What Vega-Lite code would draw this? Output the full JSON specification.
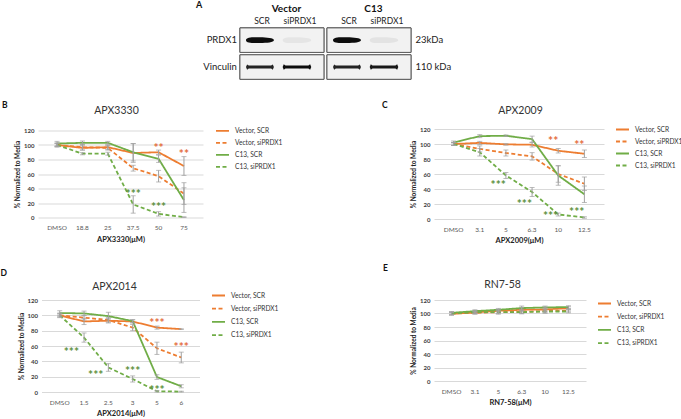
{
  "$schema": "https://vega.github.io/schema/vega-lite/v6.json",
  "background": "white",
  "padding": {"left": 0, "top": 0, "right": 0, "bottom": 0},
  "config": {
    "font": "Lato",
    "view": {"stroke": null},
    "axis": {"domain": false, "ticks": false, "labelFont": "Lato", "titleFont": "Lato"},
    "axisY": {"grid": true, "gridColor": "#D9D9D9", "gridWidth": 1, "labelFontSize": 6, "labelFontWeight": "bold", "labelColor": "#404040", "labelPadding": 4, "titleFontSize": 6.5, "titleFontWeight": "bold", "titleColor": "#222222", "titlePadding": 3},
    "axisX": {"grid": false, "labelFontSize": 6.5, "labelColor": "#595959", "labelAngle": 0, "labelPadding": 7, "titleFontSize": 7.5, "titleFontWeight": "bold", "titleColor": "#222222", "titlePadding": 4},
    "legend": {"title": null, "orient": "none", "symbolType": "stroke", "symbolSize": 169, "symbolStrokeWidth": 1.8, "labelFontSize": 6.6, "labelFont": "Lato", "labelColor": "#333333", "labelOffset": 5, "padding": 0, "rowPadding": 0},
    "title": {"font": "Lato", "color": "#111111"}
  },
  "datasets": {
    "blot": [
      {"cond": "Vector", "lane": "SCR", "protein": "PRDX1", "intensity": 0.95},
      {"cond": "Vector", "lane": "siPRDX1", "protein": "PRDX1", "intensity": 0.05},
      {"cond": "Vector", "lane": "SCR", "protein": "Vinculin", "intensity": 0.85},
      {"cond": "Vector", "lane": "siPRDX1", "protein": "Vinculin", "intensity": 0.95},
      {"cond": "C13", "lane": "SCR", "protein": "PRDX1", "intensity": 0.95},
      {"cond": "C13", "lane": "siPRDX1", "protein": "PRDX1", "intensity": 0.06},
      {"cond": "C13", "lane": "SCR", "protein": "Vinculin", "intensity": 0.85},
      {"cond": "C13", "lane": "siPRDX1", "protein": "Vinculin", "intensity": 0.9}
    ],
    "stars": [
      {"drug": "APX3330", "dose": "50", "value": 101.5, "sig": "**", "grp": "Vector"},
      {"drug": "APX3330", "dose": "75", "value": 92.5, "sig": "**", "grp": "Vector"},
      {"drug": "APX3330", "dose": "37.5", "value": 38, "sig": "***", "grp": "C13"},
      {"drug": "APX3330", "dose": "50", "value": 19.5, "sig": "***", "grp": "C13"},
      {"drug": "APX2009", "dose": "10", "value": 110, "sig": "**", "grp": "Vector"},
      {"drug": "APX2009", "dose": "12.5", "value": 104.5, "sig": "**", "grp": "Vector"},
      {"drug": "APX2009", "dose": "5", "value": 50.5, "sig": "***", "grp": "C13"},
      {"drug": "APX2009", "dose": "6.3", "value": 25, "sig": "***", "grp": "C13"},
      {"drug": "APX2009", "dose": "10", "value": 9, "sig": "***", "grp": "C13"},
      {"drug": "APX2009", "dose": "12.5", "value": 14.5, "sig": "***", "grp": "C13"},
      {"drug": "APX2014", "dose": "5", "value": 95, "sig": "***", "grp": "Vector"},
      {"drug": "APX2014", "dose": "6", "value": 64.5, "sig": "***", "grp": "Vector"},
      {"drug": "APX2014", "dose": "1.5", "value": 58, "sig": "***", "grp": "C13"},
      {"drug": "APX2014", "dose": "2.5", "value": 28, "sig": "***", "grp": "C13"},
      {"drug": "APX2014", "dose": "3", "value": 32.5, "sig": "***", "grp": "C13"},
      {"drug": "APX2014", "dose": "5", "value": 7.5, "sig": "***", "grp": "C13"}
    ],
    "curves": [
      {"drug": "APX3330", "dose": "DMSO", "series": "Vector, SCR", "value": 100, "err": 2},
      {"drug": "APX3330", "dose": "18.8", "series": "Vector, SCR", "value": 96, "err": 3},
      {"drug": "APX3330", "dose": "25", "series": "Vector, SCR", "value": 97, "err": 3},
      {"drug": "APX3330", "dose": "37.5", "series": "Vector, SCR", "value": 89, "err": 13},
      {"drug": "APX3330", "dose": "50", "series": "Vector, SCR", "value": 90, "err": 3},
      {"drug": "APX3330", "dose": "75", "series": "Vector, SCR", "value": 71, "err": 13},
      {"drug": "APX3330", "dose": "DMSO", "series": "Vector, siPRDX1", "value": 100, "err": 2},
      {"drug": "APX3330", "dose": "18.8", "series": "Vector, siPRDX1", "value": 97, "err": 4},
      {"drug": "APX3330", "dose": "25", "series": "Vector, siPRDX1", "value": 96, "err": 3},
      {"drug": "APX3330", "dose": "37.5", "series": "Vector, siPRDX1", "value": 68, "err": 4},
      {"drug": "APX3330", "dose": "50", "series": "Vector, siPRDX1", "value": 57, "err": 8},
      {"drug": "APX3330", "dose": "75", "series": "Vector, siPRDX1", "value": 33, "err": 15},
      {"drug": "APX3330", "dose": "DMSO", "series": "C13, SCR", "value": 102, "err": 3},
      {"drug": "APX3330", "dose": "18.8", "series": "C13, SCR", "value": 103, "err": 2.5},
      {"drug": "APX3330", "dose": "25", "series": "C13, SCR", "value": 103, "err": 2},
      {"drug": "APX3330", "dose": "37.5", "series": "C13, SCR", "value": 90, "err": 12},
      {"drug": "APX3330", "dose": "50", "series": "C13, SCR", "value": 81, "err": 5},
      {"drug": "APX3330", "dose": "75", "series": "C13, SCR", "value": 24, "err": 17},
      {"drug": "APX3330", "dose": "DMSO", "series": "C13, siPRDX1", "value": 100, "err": 3},
      {"drug": "APX3330", "dose": "18.8", "series": "C13, siPRDX1", "value": 88, "err": 1.5},
      {"drug": "APX3330", "dose": "25", "series": "C13, siPRDX1", "value": 88, "err": 2},
      {"drug": "APX3330", "dose": "37.5", "series": "C13, siPRDX1", "value": 18, "err": 12},
      {"drug": "APX3330", "dose": "50", "series": "C13, siPRDX1", "value": 5, "err": 3},
      {"drug": "APX3330", "dose": "75", "series": "C13, siPRDX1", "value": 0.5, "err": 0.5},
      {"drug": "APX2009", "dose": "DMSO", "series": "Vector, SCR", "value": 100, "err": 2},
      {"drug": "APX2009", "dose": "3.1", "series": "Vector, SCR", "value": 101.5, "err": 2},
      {"drug": "APX2009", "dose": "5", "series": "Vector, SCR", "value": 99.5, "err": 1},
      {"drug": "APX2009", "dose": "6.3", "series": "Vector, SCR", "value": 99, "err": 3},
      {"drug": "APX2009", "dose": "10", "series": "Vector, SCR", "value": 91, "err": 3},
      {"drug": "APX2009", "dose": "12.5", "series": "Vector, SCR", "value": 87, "err": 5},
      {"drug": "APX2009", "dose": "DMSO", "series": "Vector, siPRDX1", "value": 100, "err": 2},
      {"drug": "APX2009", "dose": "3.1", "series": "Vector, siPRDX1", "value": 93.5, "err": 4},
      {"drug": "APX2009", "dose": "5", "series": "Vector, siPRDX1", "value": 88, "err": 4},
      {"drug": "APX2009", "dose": "6.3", "series": "Vector, siPRDX1", "value": 83.5, "err": 5},
      {"drug": "APX2009", "dose": "10", "series": "Vector, siPRDX1", "value": 60, "err": 11},
      {"drug": "APX2009", "dose": "12.5", "series": "Vector, siPRDX1", "value": 47, "err": 9},
      {"drug": "APX2009", "dose": "DMSO", "series": "C13, SCR", "value": 102, "err": 2},
      {"drug": "APX2009", "dose": "3.1", "series": "C13, SCR", "value": 110.5, "err": 2},
      {"drug": "APX2009", "dose": "5", "series": "C13, SCR", "value": 111, "err": 1},
      {"drug": "APX2009", "dose": "6.3", "series": "C13, SCR", "value": 106.5, "err": 4},
      {"drug": "APX2009", "dose": "10", "series": "C13, SCR", "value": 58, "err": 13},
      {"drug": "APX2009", "dose": "12.5", "series": "C13, SCR", "value": 33, "err": 11},
      {"drug": "APX2009", "dose": "DMSO", "series": "C13, siPRDX1", "value": 100, "err": 2},
      {"drug": "APX2009", "dose": "3.1", "series": "C13, siPRDX1", "value": 89, "err": 5},
      {"drug": "APX2009", "dose": "5", "series": "C13, siPRDX1", "value": 58, "err": 4},
      {"drug": "APX2009", "dose": "6.3", "series": "C13, siPRDX1", "value": 36, "err": 6},
      {"drug": "APX2009", "dose": "10", "series": "C13, siPRDX1", "value": 6, "err": 2},
      {"drug": "APX2009", "dose": "12.5", "series": "C13, siPRDX1", "value": 2, "err": 1},
      {"drug": "APX2014", "dose": "DMSO", "series": "Vector, SCR", "value": 100, "err": 2},
      {"drug": "APX2014", "dose": "1.5", "series": "Vector, SCR", "value": 92, "err": 4},
      {"drug": "APX2014", "dose": "2.5", "series": "Vector, SCR", "value": 93, "err": 3},
      {"drug": "APX2014", "dose": "3", "series": "Vector, SCR", "value": 92, "err": 2},
      {"drug": "APX2014", "dose": "5", "series": "Vector, SCR", "value": 84, "err": 2},
      {"drug": "APX2014", "dose": "6", "series": "Vector, SCR", "value": 82, "err": 0.5},
      {"drug": "APX2014", "dose": "DMSO", "series": "Vector, siPRDX1", "value": 100, "err": 2},
      {"drug": "APX2014", "dose": "1.5", "series": "Vector, siPRDX1", "value": 97, "err": 3},
      {"drug": "APX2014", "dose": "2.5", "series": "Vector, siPRDX1", "value": 94, "err": 3},
      {"drug": "APX2014", "dose": "3", "series": "Vector, siPRDX1", "value": 84, "err": 4},
      {"drug": "APX2014", "dose": "5", "series": "Vector, siPRDX1", "value": 57, "err": 8},
      {"drug": "APX2014", "dose": "6", "series": "Vector, siPRDX1", "value": 45, "err": 7},
      {"drug": "APX2014", "dose": "DMSO", "series": "C13, SCR", "value": 103, "err": 3},
      {"drug": "APX2014", "dose": "1.5", "series": "C13, SCR", "value": 102.5, "err": 3},
      {"drug": "APX2014", "dose": "2.5", "series": "C13, SCR", "value": 99, "err": 5},
      {"drug": "APX2014", "dose": "3", "series": "C13, SCR", "value": 92.5, "err": 2},
      {"drug": "APX2014", "dose": "5", "series": "C13, SCR", "value": 19.5, "err": 3},
      {"drug": "APX2014", "dose": "6", "series": "C13, SCR", "value": 7.5, "err": 2},
      {"drug": "APX2014", "dose": "DMSO", "series": "C13, siPRDX1", "value": 100, "err": 3},
      {"drug": "APX2014", "dose": "1.5", "series": "C13, siPRDX1", "value": 71, "err": 6},
      {"drug": "APX2014", "dose": "2.5", "series": "C13, siPRDX1", "value": 32, "err": 5},
      {"drug": "APX2014", "dose": "3", "series": "C13, siPRDX1", "value": 17, "err": 4},
      {"drug": "APX2014", "dose": "5", "series": "C13, siPRDX1", "value": 1, "err": 1},
      {"drug": "APX2014", "dose": "6", "series": "C13, siPRDX1", "value": 0.5, "err": 0.5},
      {"drug": "RN7-58", "dose": "DMSO", "series": "Vector, SCR", "value": 99.5, "err": 2},
      {"drug": "RN7-58", "dose": "3.1", "series": "Vector, SCR", "value": 101.5, "err": 2},
      {"drug": "RN7-58", "dose": "5", "series": "Vector, SCR", "value": 104, "err": 2},
      {"drug": "RN7-58", "dose": "6.3", "series": "Vector, SCR", "value": 105.5, "err": 3},
      {"drug": "RN7-58", "dose": "10", "series": "Vector, SCR", "value": 106, "err": 3},
      {"drug": "RN7-58", "dose": "12.5", "series": "Vector, SCR", "value": 108, "err": 2},
      {"drug": "RN7-58", "dose": "DMSO", "series": "Vector, siPRDX1", "value": 100, "err": 2},
      {"drug": "RN7-58", "dose": "3.1", "series": "Vector, siPRDX1", "value": 101, "err": 2},
      {"drug": "RN7-58", "dose": "5", "series": "Vector, siPRDX1", "value": 102, "err": 3},
      {"drug": "RN7-58", "dose": "6.3", "series": "Vector, siPRDX1", "value": 102.5, "err": 3},
      {"drug": "RN7-58", "dose": "10", "series": "Vector, siPRDX1", "value": 103.5, "err": 3},
      {"drug": "RN7-58", "dose": "12.5", "series": "Vector, siPRDX1", "value": 104.5, "err": 2},
      {"drug": "RN7-58", "dose": "DMSO", "series": "C13, SCR", "value": 101, "err": 2},
      {"drug": "RN7-58", "dose": "3.1", "series": "C13, SCR", "value": 103.5, "err": 2},
      {"drug": "RN7-58", "dose": "5", "series": "C13, SCR", "value": 105.5, "err": 2},
      {"drug": "RN7-58", "dose": "6.3", "series": "C13, SCR", "value": 108, "err": 3},
      {"drug": "RN7-58", "dose": "10", "series": "C13, SCR", "value": 109, "err": 2},
      {"drug": "RN7-58", "dose": "12.5", "series": "C13, SCR", "value": 109.5, "err": 2},
      {"drug": "RN7-58", "dose": "DMSO", "series": "C13, siPRDX1", "value": 100, "err": 2},
      {"drug": "RN7-58", "dose": "3.1", "series": "C13, siPRDX1", "value": 102, "err": 2},
      {"drug": "RN7-58", "dose": "5", "series": "C13, siPRDX1", "value": 102, "err": 2},
      {"drug": "RN7-58", "dose": "6.3", "series": "C13, siPRDX1", "value": 102, "err": 2},
      {"drug": "RN7-58", "dose": "10", "series": "C13, siPRDX1", "value": 103, "err": 2},
      {"drug": "RN7-58", "dose": "12.5", "series": "C13, siPRDX1", "value": 103, "err": 2}
    ]
  },
  "resolve": {"scale": {"color": "independent", "strokeDash": "independent"}},
  "spacing": 49,
  "bounds": "flush",
  "align": "none",
  "vconcat": [
    {
      "width": 373, "height": 78.3,
      "title": {"text": "A", "anchor": "start", "frame": "group", "dx": 158, "offset": -8.5, "fontSize": 9, "fontWeight": "bold"},
      "data": {"name": "blot"},
      "encoding": {
        "x": {"field": "cond", "type": "nominal", "scale": {"type": "band", "domain": ["gap", "Vector", "C13"], "paddingInner": 0.0345, "paddingOuter": 0.66, "align": 1}, "axis": null},
        "y": {"field": "protein", "type": "nominal", "scale": {"type": "band", "domain": ["lanes", "PRDX1", "Vinculin"], "paddingInner": 0.089, "paddingOuter": 0},
          "axis": {"orient": "right", "title": null, "grid": false, "labelExpr": "datum.value == 'PRDX1' ? '23kDa' : datum.value == 'Vinculin' ? '110 kDa' : ''", "labelFontSize": 9.5, "labelFontWeight": "normal", "labelColor": "#222222", "labelPadding": 4}}
      },
      "layer": [
        {
          "mark": {"type": "rect", "fill": "#F2F2F2", "stroke": "#5A5A5A", "strokeWidth": 1}
        },
        {
          "transform": [{"filter": "datum.lane == 'SCR'"}],
          "mark": {"type": "point", "filled": true, "color": "#000000", "strokeWidth": 0, "size": 780, "xOffset": -22},
          "encoding": {
            "shape": {"field": "protein", "type": "nominal", "scale": {"domain": ["PRDX1", "Vinculin"], "range": ["M-1,0C-1,-0.22,-0.5,-0.21,0,-0.2C0.5,-0.19,1,-0.15,1,0C1,0.15,0.5,0.19,0,0.2C-0.5,0.21,-1,0.22,-1,0Z", "M-1,0L-0.92,-0.19L-0.8,-0.11L0.8,-0.11L0.92,-0.19L1,0L0.92,0.19L0.8,0.11L-0.8,0.11L-0.92,0.19Z"]}, "legend": null},
            "opacity": {"field": "intensity", "type": "quantitative", "scale": {"domain": [0, 1], "range": [0, 1]}, "legend": null}
          }
        },
        {
          "transform": [{"filter": "datum.lane == 'siPRDX1'"}],
          "mark": {"type": "point", "filled": true, "color": "#000000", "strokeWidth": 0, "size": 820, "xOffset": 15},
          "encoding": {
            "shape": {"field": "protein", "type": "nominal", "scale": {"domain": ["PRDX1", "Vinculin"], "range": ["M-1,0C-1,-0.22,-0.5,-0.21,0,-0.2C0.5,-0.19,1,-0.15,1,0C1,0.15,0.5,0.19,0,0.2C-0.5,0.21,-1,0.22,-1,0Z", "M-1,0L-0.92,-0.19L-0.8,-0.11L0.8,-0.11L0.92,-0.19L1,0L0.92,0.19L0.8,0.11L-0.8,0.11L-0.92,0.19Z"]}, "legend": null},
            "opacity": {"field": "intensity", "type": "quantitative", "scale": {"domain": [0, 1], "range": [0, 1]}, "legend": null}
          }
        },
        {
          "transform": [{"filter": "datum.protein == 'PRDX1' && datum.lane == 'SCR'"}],
          "mark": {"type": "text", "fontSize": 8.5, "color": "#222222", "baseline": "middle", "dx": -20},
          "encoding": {
            "y": {"datum": "lanes", "type": "nominal", "bandPosition": 0.83},
            "text": {"field": "lane"}
          }
        },
        {
          "transform": [{"filter": "datum.protein == 'PRDX1' && datum.lane == 'siPRDX1'"}],
          "mark": {"type": "text", "fontSize": 8.5, "color": "#222222", "baseline": "middle", "dx": 18},
          "encoding": {
            "y": {"datum": "lanes", "type": "nominal", "bandPosition": 0.83},
            "text": {"field": "lane"}
          }
        },
        {
          "transform": [{"filter": "datum.protein == 'PRDX1' && datum.lane == 'SCR'"}],
          "mark": {"type": "text", "fontSize": 10, "fontWeight": "bold", "color": "#111111", "baseline": "middle", "dx": 4.5},
          "encoding": {
            "y": {"datum": "lanes", "type": "nominal", "bandPosition": 0.31},
            "text": {"field": "cond"}
          }
        },
        {
          "transform": [{"filter": "datum.cond == 'Vector' && datum.lane == 'SCR'"}],
          "mark": {"type": "text", "fontSize": 9.5, "color": "#222222", "baseline": "middle", "align": "right", "dx": -3},
          "encoding": {
            "x": {"field": "cond", "type": "nominal", "bandPosition": 0, "axis": null},
            "text": {"field": "protein"}
          }
        }
      ]
    },
    {
      "columns": 2,
      "spacing": {"row": 81, "column": 231},
      "bounds": "flush",
      "align": "each",
      "center": true,
      "resolve": {"scale": {"color": "independent", "strokeDash": "independent"}},
      "concat": [
        {
          "width": 165, "height": 87,
          "title": {"text": "B", "anchor": "start", "frame": "group", "dx": -36, "offset": -4, "fontSize": 8.5, "fontWeight": "bold"},
          "resolve": {"axis": {"x": "independent"}},
          "layer": [
            {
              "data": {"name": "curves"},
              "transform": [{"filter": "datum.drug == 'APX3330'"}],
              "mark": {"type": "line", "strokeWidth": 1.8},
              "encoding": {
                "x": {"field": "dose", "type": "ordinal", "scale": {"domain": ["DMSO", "18.8", "25", "37.5", "50", "75"], "padding": 0.5}, "axis": {"orient": "bottom", "title": "APX3330(μM)"}},
                "y": {"field": "value", "type": "quantitative", "scale": {"domain": [0, 120], "nice": false}, "axis": {"values": [0, 20, 40, 60, 80, 100, 120], "title": "% Normalized to Media"}},
                "color": {"field": "series", "type": "nominal", "scale": {"domain": ["Vector, SCR", "Vector, siPRDX1", "C13, SCR", "C13, siPRDX1"], "range": ["#ED7D31", "#ED7D31", "#70AD47", "#70AD47"]}, "legend": {"orient": "none", "legendX": 177, "legendY": -7.2, "rowPadding": -1.2}},
                "strokeDash": {"field": "series", "type": "nominal", "scale": {"domain": ["Vector, SCR", "Vector, siPRDX1", "C13, SCR", "C13, siPRDX1"], "range": [[1, 0], [4, 2.5], [1, 0], [4, 2.5]]}, "legend": {"orient": "none", "legendX": 177, "legendY": -7.2, "rowPadding": -1.2}}
              }
            },
            {
              "data": {"name": "curves"},
              "transform": [{"filter": "datum.drug == 'APX3330'"}],
              "mark": {"type": "errorbar", "ticks": {"size": 5}, "color": "#A0A0A0", "thickness": 1},
              "encoding": {
                "x": {"field": "dose", "type": "ordinal", "axis": {"orient": "top", "title": "APX3330", "labels": false, "grid": false, "titleFontSize": 10.5, "titleFontWeight": "normal", "titleColor": "#333333", "titlePadding": 15, "titleX": 78}},
                "y": {"field": "value", "type": "quantitative", "title": "% Normalized to Media", "axis": {"values": [0, 20, 40, 60, 80, 100, 120], "title": "% Normalized to Media"}},
                "yError": {"field": "err"}
              }
            },
            {
              "data": {"name": "stars"},
              "transform": [{"filter": "datum.drug == 'APX3330'"}],
              "mark": {"type": "text", "fontSize": 12, "fontWeight": "bold", "baseline": "middle", "align": "center", "dy": 4},
              "encoding": {
                "x": {"field": "dose", "type": "ordinal", "axis": null},
                "y": {"field": "value", "type": "quantitative", "axis": {"values": [0, 20, 40, 60, 80, 100, 120], "title": "% Normalized to Media"}},
                "text": {"field": "sig"},
                "fill": {"field": "grp", "type": "nominal", "scale": {"domain": ["Vector", "C13"], "range": ["#E46C3C", "#5A8F3C"]}, "legend": null}
              }
            }
          ]
        },
        {
          "width": 170, "height": 90,
          "title": {"text": "C", "anchor": "start", "frame": "group", "dx": -52, "offset": -4, "fontSize": 8.5, "fontWeight": "bold"},
          "resolve": {"axis": {"x": "independent"}},
          "layer": [
            {
              "data": {"name": "curves"},
              "transform": [{"filter": "datum.drug == 'APX2009'"}],
              "mark": {"type": "line", "strokeWidth": 1.8},
              "encoding": {
                "x": {"field": "dose", "type": "ordinal", "scale": {"domain": ["DMSO", "3.1", "5", "6.3", "10", "12.5"], "padding": 0.5}, "axis": {"orient": "bottom", "title": "APX2009(μM)"}},
                "y": {"field": "value", "type": "quantitative", "scale": {"domain": [0, 120], "nice": false}, "axis": {"values": [0, 20, 40, 60, 80, 100, 120], "title": "% Normalized to Media"}},
                "color": {"field": "series", "type": "nominal", "scale": {"domain": ["Vector, SCR", "Vector, siPRDX1", "C13, SCR", "C13, siPRDX1"], "range": ["#ED7D31", "#ED7D31", "#70AD47", "#70AD47"]}, "legend": {"orient": "none", "legendX": 181, "legendY": -7, "rowPadding": -0.9}},
                "strokeDash": {"field": "series", "type": "nominal", "scale": {"domain": ["Vector, SCR", "Vector, siPRDX1", "C13, SCR", "C13, siPRDX1"], "range": [[1, 0], [4, 2.5], [1, 0], [4, 2.5]]}, "legend": {"orient": "none", "legendX": 181, "legendY": -7, "rowPadding": -0.9}}
              }
            },
            {
              "data": {"name": "curves"},
              "transform": [{"filter": "datum.drug == 'APX2009'"}],
              "mark": {"type": "errorbar", "ticks": {"size": 5}, "color": "#A0A0A0", "thickness": 1},
              "encoding": {
                "x": {"field": "dose", "type": "ordinal", "axis": {"orient": "top", "title": "APX2009", "labels": false, "grid": false, "titleFontSize": 10.5, "titleFontWeight": "normal", "titleColor": "#333333", "titlePadding": 14, "titleX": 86}},
                "y": {"field": "value", "type": "quantitative", "title": "% Normalized to Media", "axis": {"values": [0, 20, 40, 60, 80, 100, 120], "title": "% Normalized to Media"}},
                "yError": {"field": "err"}
              }
            },
            {
              "data": {"name": "stars"},
              "transform": [{"filter": "datum.drug == 'APX2009'"}],
              "mark": {"type": "text", "fontSize": 12, "fontWeight": "bold", "baseline": "middle", "align": "right", "dy": 4},
              "encoding": {
                "x": {"field": "dose", "type": "ordinal", "axis": null},
                "y": {"field": "value", "type": "quantitative", "axis": {"values": [0, 20, 40, 60, 80, 100, 120], "title": "% Normalized to Media"}},
                "text": {"field": "sig"},
                "fill": {"field": "grp", "type": "nominal", "scale": {"domain": ["Vector", "C13"], "range": ["#E46C3C", "#5A8F3C"]}, "legend": null}
              }
            }
          ]
        },
        {
          "width": 158, "height": 92,
          "title": {"text": "D", "anchor": "start", "frame": "group", "dx": -41, "offset": 4, "fontSize": 8.5, "fontWeight": "bold"},
          "resolve": {"axis": {"x": "independent"}},
          "layer": [
            {
              "data": {"name": "curves"},
              "transform": [{"filter": "datum.drug == 'APX2014'"}],
              "mark": {"type": "line", "strokeWidth": 1.8},
              "encoding": {
                "x": {"field": "dose", "type": "ordinal", "scale": {"domain": ["DMSO", "1.5", "2.5", "3", "5", "6"], "padding": 0.5}, "axis": {"orient": "bottom", "title": "APX2014(μM)"}},
                "y": {"field": "value", "type": "quantitative", "scale": {"domain": [0, 120], "nice": false}, "axis": {"values": [0, 20, 40, 60, 80, 100, 120], "title": "% Normalized to Media"}},
                "color": {"field": "series", "type": "nominal", "scale": {"domain": ["Vector, SCR", "Vector, siPRDX1", "C13, SCR", "C13, siPRDX1"], "range": ["#ED7D31", "#ED7D31", "#70AD47", "#70AD47"]}, "legend": {"orient": "none", "legendX": 169.5, "legendY": -12, "rowPadding": 1.2}},
                "strokeDash": {"field": "series", "type": "nominal", "scale": {"domain": ["Vector, SCR", "Vector, siPRDX1", "C13, SCR", "C13, siPRDX1"], "range": [[1, 0], [4, 2.5], [1, 0], [4, 2.5]]}, "legend": {"orient": "none", "legendX": 169.5, "legendY": -12, "rowPadding": 1.2}}
              }
            },
            {
              "data": {"name": "curves"},
              "transform": [{"filter": "datum.drug == 'APX2014'"}],
              "mark": {"type": "errorbar", "ticks": {"size": 5}, "color": "#A0A0A0", "thickness": 1},
              "encoding": {
                "x": {"field": "dose", "type": "ordinal", "axis": {"orient": "top", "title": "APX2014", "labels": false, "grid": false, "titleFontSize": 10.5, "titleFontWeight": "normal", "titleColor": "#333333", "titlePadding": 9, "titleX": 72.5}},
                "y": {"field": "value", "type": "quantitative", "title": "% Normalized to Media", "axis": {"values": [0, 20, 40, 60, 80, 100, 120], "title": "% Normalized to Media"}},
                "yError": {"field": "err"}
              }
            },
            {
              "data": {"name": "stars"},
              "transform": [{"filter": "datum.drug == 'APX2014' && !(datum.grp == 'C13' && (datum.dose == '1.5' || datum.dose == '2.5'))"}],
              "mark": {"type": "text", "fontSize": 12, "fontWeight": "bold", "baseline": "middle", "align": "center", "dy": 4},
              "encoding": {
                "x": {"field": "dose", "type": "ordinal", "axis": null},
                "y": {"field": "value", "type": "quantitative", "axis": {"values": [0, 20, 40, 60, 80, 100, 120], "title": "% Normalized to Media"}},
                "text": {"field": "sig"},
                "fill": {"field": "grp", "type": "nominal", "scale": {"domain": ["Vector", "C13"], "range": ["#E46C3C", "#5A8F3C"]}, "legend": null}
              }
            },
            {
              "data": {"name": "stars"},
              "transform": [{"filter": "datum.drug == 'APX2014' && datum.grp == 'C13' && (datum.dose == '1.5' || datum.dose == '2.5')"}],
              "mark": {"type": "text", "fontSize": 12, "fontWeight": "bold", "baseline": "middle", "align": "right", "dx": -5, "dy": 4},
              "encoding": {
                "x": {"field": "dose", "type": "ordinal", "axis": null},
                "y": {"field": "value", "type": "quantitative", "axis": {"values": [0, 20, 40, 60, 80, 100, 120], "title": "% Normalized to Media"}},
                "text": {"field": "sig"},
                "fill": {"field": "grp", "type": "nominal", "legend": null}
              }
            }
          ]
        },
        {
          "width": 152, "height": 81,
          "title": {"text": "E", "anchor": "start", "frame": "group", "dx": -51, "offset": 7, "fontSize": 8.5, "fontWeight": "bold"},
          "resolve": {"axis": {"x": "independent"}},
          "layer": [
            {
              "data": {"name": "curves"},
              "transform": [{"filter": "datum.drug == 'RN7-58'"}],
              "mark": {"type": "line", "strokeWidth": 1.8},
              "encoding": {
                "x": {"field": "dose", "type": "ordinal", "scale": {"domain": ["DMSO", "3.1", "5", "6.3", "10", "12.5"], "padding": 0.5}, "axis": {"orient": "bottom", "title": "RN7-58(μM)"}},
                "y": {"field": "value", "type": "quantitative", "scale": {"domain": [0, 120], "nice": false}, "axis": {"values": [0, 20, 40, 60, 80, 100, 120], "title": "% Normalized to Media"}},
                "color": {"field": "series", "type": "nominal", "scale": {"domain": ["Vector, SCR", "Vector, siPRDX1", "C13, SCR", "C13, siPRDX1"], "range": ["#ED7D31", "#ED7D31", "#70AD47", "#70AD47"]}, "legend": {"orient": "none", "legendX": 163, "legendY": -4, "rowPadding": 1.2}},
                "strokeDash": {"field": "series", "type": "nominal", "scale": {"domain": ["Vector, SCR", "Vector, siPRDX1", "C13, SCR", "C13, siPRDX1"], "range": [[1, 0], [4, 2.5], [1, 0], [4, 2.5]]}, "legend": {"orient": "none", "legendX": 163, "legendY": -4, "rowPadding": 1.2}}
              }
            },
            {
              "data": {"name": "curves"},
              "transform": [{"filter": "datum.drug == 'RN7-58'"}],
              "mark": {"type": "errorbar", "ticks": {"size": 5}, "color": "#A0A0A0", "thickness": 1},
              "encoding": {
                "x": {"field": "dose", "type": "ordinal", "axis": {"orient": "top", "title": "RN7-58", "labels": false, "grid": false, "titleFontSize": 10.5, "titleFontWeight": "normal", "titleColor": "#333333", "titlePadding": 11, "titleX": 68}},
                "y": {"field": "value", "type": "quantitative", "title": "% Normalized to Media", "axis": {"values": [0, 20, 40, 60, 80, 100, 120], "title": "% Normalized to Media"}},
                "yError": {"field": "err"}
              }
            }
          ]
        }
      ]
    }
  ]
}
